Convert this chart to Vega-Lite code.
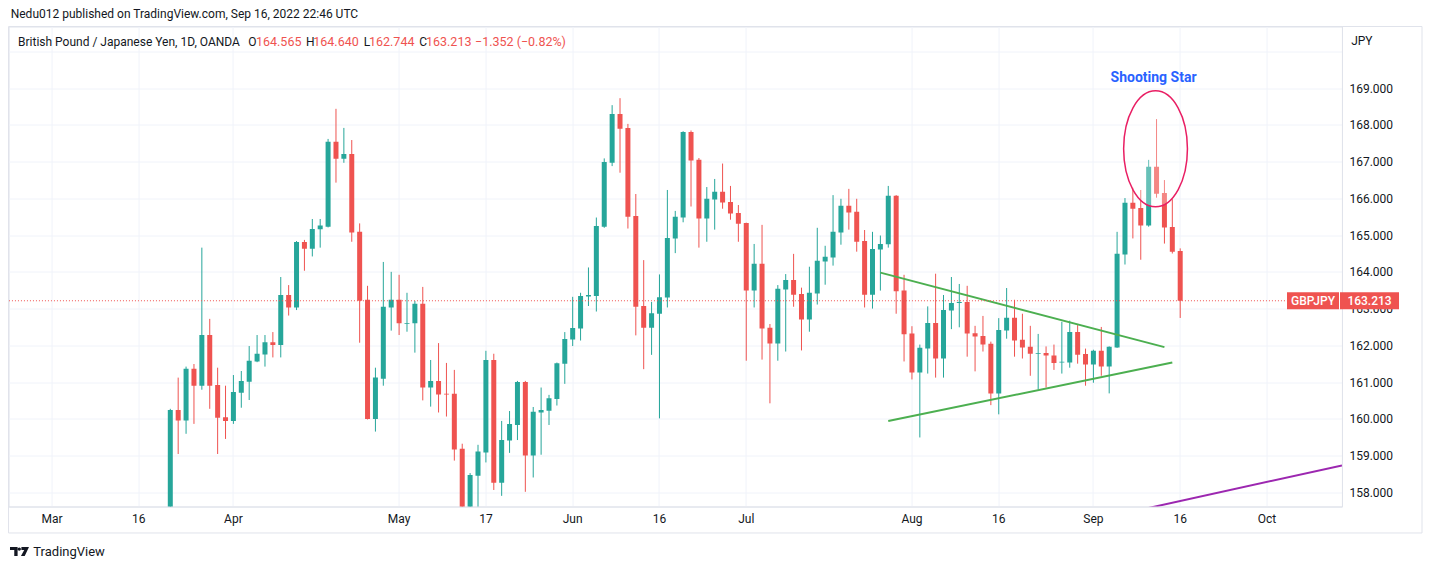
{
  "$schema": "https://vega.github.io/schema/vega-lite/v6.json",
  "description": "GBPJPY daily candles, Mar - Sep 2022, TradingView style",
  "width": 1333.4,
  "height": 480,
  "autosize": {"type": "none"},
  "padding": {"left": 8.55, "top": 26.5, "right": 90.05, "bottom": 62.5},
  "background": "#ffffff",
  "datasets": {
    "candles": [
      {"date": "2022-03-22", "open": 157.35, "high": 160.27, "low": 157.1, "close": 160.24},
      {"date": "2022-03-23", "open": 160.24, "high": 161.12, "low": 159.04, "close": 159.95},
      {"date": "2022-03-24", "open": 159.95, "high": 161.42, "low": 159.59, "close": 161.36},
      {"date": "2022-03-25", "open": 161.36, "high": 161.49, "low": 159.86, "close": 160.9},
      {"date": "2022-03-28", "open": 160.9, "high": 164.66, "low": 160.79, "close": 162.28},
      {"date": "2022-03-29", "open": 162.28, "high": 162.72, "low": 160.27, "close": 160.9},
      {"date": "2022-03-30", "open": 160.92, "high": 161.39, "low": 159.04, "close": 160.03},
      {"date": "2022-03-31", "open": 160.04, "high": 160.9, "low": 159.45, "close": 159.94},
      {"date": "2022-04-01", "open": 159.94, "high": 161.19, "low": 159.86, "close": 160.73},
      {"date": "2022-04-04", "open": 160.71, "high": 161.3, "low": 160.3, "close": 161.03},
      {"date": "2022-04-05", "open": 161.01, "high": 161.98, "low": 160.51, "close": 161.58},
      {"date": "2022-04-06", "open": 161.56, "high": 162.28, "low": 161.54, "close": 161.77},
      {"date": "2022-04-07", "open": 161.75, "high": 162.28, "low": 161.42, "close": 162.08},
      {"date": "2022-04-08", "open": 162.08, "high": 162.36, "low": 161.67, "close": 162.01},
      {"date": "2022-04-11", "open": 162.01, "high": 163.86, "low": 161.67, "close": 163.37},
      {"date": "2022-04-12", "open": 163.37, "high": 163.64, "low": 162.81, "close": 163.03},
      {"date": "2022-04-13", "open": 163.03, "high": 164.84, "low": 162.96, "close": 164.81},
      {"date": "2022-04-14", "open": 164.81, "high": 164.87, "low": 164.03, "close": 164.63},
      {"date": "2022-04-15", "open": 164.63, "high": 165.44, "low": 164.42, "close": 165.17},
      {"date": "2022-04-18", "open": 165.16, "high": 165.44, "low": 164.66, "close": 165.26},
      {"date": "2022-04-19", "open": 165.23, "high": 167.62, "low": 165.21, "close": 167.54},
      {"date": "2022-04-20", "open": 167.54, "high": 168.44, "low": 166.43, "close": 167.08},
      {"date": "2022-04-21", "open": 167.08, "high": 167.92, "low": 166.97, "close": 167.21},
      {"date": "2022-04-22", "open": 167.21, "high": 167.59, "low": 164.82, "close": 165.07},
      {"date": "2022-04-25", "open": 165.09, "high": 165.32, "low": 162.07, "close": 163.21},
      {"date": "2022-04-26", "open": 163.24, "high": 163.62, "low": 159.98, "close": 159.99},
      {"date": "2022-04-27", "open": 159.99, "high": 161.39, "low": 159.65, "close": 161.12},
      {"date": "2022-04-28", "open": 161.09, "high": 164.27, "low": 160.9, "close": 163.05},
      {"date": "2022-04-29", "open": 163.03, "high": 164.0, "low": 162.4, "close": 163.24},
      {"date": "2022-05-02", "open": 163.24, "high": 163.92, "low": 162.28, "close": 162.6},
      {"date": "2022-05-03", "open": 162.59, "high": 163.43, "low": 162.37, "close": 162.61},
      {"date": "2022-05-04", "open": 162.6, "high": 163.21, "low": 161.8, "close": 163.13},
      {"date": "2022-05-05", "open": 163.13, "high": 163.59, "low": 160.5, "close": 160.85},
      {"date": "2022-05-06", "open": 160.85, "high": 161.6, "low": 160.33, "close": 161.03},
      {"date": "2022-05-09", "open": 161.03, "high": 162.06, "low": 160.17, "close": 160.66},
      {"date": "2022-05-10", "open": 160.68, "high": 161.52, "low": 160.06, "close": 160.66},
      {"date": "2022-05-11", "open": 160.68, "high": 161.33, "low": 158.86, "close": 159.16},
      {"date": "2022-05-12", "open": 159.18, "high": 159.32, "low": 155.6, "close": 157.1},
      {"date": "2022-05-13", "open": 157.1, "high": 158.52, "low": 156.9, "close": 158.47},
      {"date": "2022-05-16", "open": 158.45, "high": 159.29, "low": 157.5, "close": 159.11},
      {"date": "2022-05-17", "open": 159.08, "high": 161.85, "low": 158.81, "close": 161.6},
      {"date": "2022-05-18", "open": 161.6, "high": 161.77, "low": 158.06, "close": 158.26},
      {"date": "2022-05-19", "open": 158.26, "high": 159.94, "low": 157.9, "close": 159.42},
      {"date": "2022-05-20", "open": 159.41, "high": 160.21, "low": 159.07, "close": 159.86},
      {"date": "2022-05-23", "open": 159.83, "high": 161.03, "low": 159.42, "close": 161.0},
      {"date": "2022-05-24", "open": 161.0, "high": 161.03, "low": 158.01, "close": 159.0},
      {"date": "2022-05-25", "open": 159.0, "high": 160.32, "low": 158.4, "close": 160.19},
      {"date": "2022-05-26", "open": 160.17, "high": 160.85, "low": 159.02, "close": 160.24},
      {"date": "2022-05-27", "open": 160.22, "high": 160.65, "low": 159.83, "close": 160.56},
      {"date": "2022-05-30", "open": 160.54, "high": 161.53, "low": 160.36, "close": 161.51},
      {"date": "2022-05-31", "open": 161.5, "high": 162.36, "low": 160.95, "close": 162.17},
      {"date": "2022-06-01", "open": 162.16, "high": 163.32, "low": 161.98, "close": 162.47},
      {"date": "2022-06-02", "open": 162.46, "high": 163.43, "low": 162.13, "close": 163.34},
      {"date": "2022-06-03", "open": 163.33, "high": 164.12, "low": 163.07, "close": 163.37},
      {"date": "2022-06-06", "open": 163.34, "high": 165.48, "low": 162.92, "close": 165.25},
      {"date": "2022-06-07", "open": 165.23, "high": 167.09, "low": 165.2, "close": 166.99},
      {"date": "2022-06-08", "open": 166.97, "high": 168.54, "low": 166.88, "close": 168.3},
      {"date": "2022-06-09", "open": 168.3, "high": 168.73, "low": 166.7, "close": 167.9},
      {"date": "2022-06-10", "open": 167.92, "high": 168.03, "low": 165.18, "close": 165.5},
      {"date": "2022-06-13", "open": 165.52, "high": 166.12, "low": 162.27, "close": 163.05},
      {"date": "2022-06-14", "open": 163.07, "high": 164.32, "low": 161.35, "close": 162.48},
      {"date": "2022-06-15", "open": 162.48, "high": 163.18, "low": 161.74, "close": 162.87},
      {"date": "2022-06-16", "open": 162.86, "high": 163.93, "low": 160.01, "close": 163.31},
      {"date": "2022-06-17", "open": 163.3, "high": 166.23, "low": 163.03, "close": 164.92},
      {"date": "2022-06-20", "open": 164.91, "high": 165.66, "low": 164.51, "close": 165.5},
      {"date": "2022-06-21", "open": 165.48, "high": 167.83, "low": 165.35, "close": 167.81},
      {"date": "2022-06-22", "open": 167.81, "high": 167.85, "low": 165.78, "close": 167.03},
      {"date": "2022-06-23", "open": 167.05, "high": 167.1, "low": 164.66, "close": 165.45},
      {"date": "2022-06-24", "open": 165.45, "high": 166.31, "low": 164.82, "close": 165.99},
      {"date": "2022-06-27", "open": 165.97, "high": 166.53, "low": 165.15, "close": 166.18},
      {"date": "2022-06-28", "open": 166.18, "high": 166.95, "low": 165.72, "close": 165.89},
      {"date": "2022-06-29", "open": 165.9, "high": 166.34, "low": 165.42, "close": 165.59},
      {"date": "2022-06-30", "open": 165.6, "high": 165.82, "low": 164.82, "close": 165.31},
      {"date": "2022-07-01", "open": 165.33, "high": 165.34, "low": 161.58, "close": 163.49},
      {"date": "2022-07-04", "open": 163.49, "high": 164.76, "low": 163.03, "close": 164.22},
      {"date": "2022-07-05", "open": 164.22, "high": 165.28, "low": 161.61, "close": 162.46},
      {"date": "2022-07-06", "open": 162.48, "high": 162.58, "low": 160.42, "close": 162.05},
      {"date": "2022-07-07", "open": 162.05, "high": 163.64, "low": 161.58, "close": 163.54},
      {"date": "2022-07-08", "open": 163.52, "high": 163.94, "low": 161.83, "close": 163.78},
      {"date": "2022-07-11", "open": 163.78, "high": 164.49, "low": 163.05, "close": 163.38},
      {"date": "2022-07-12", "open": 163.4, "high": 163.57, "low": 161.86, "close": 162.7},
      {"date": "2022-07-13", "open": 162.7, "high": 164.14, "low": 162.37, "close": 163.43},
      {"date": "2022-07-14", "open": 163.41, "high": 165.2, "low": 163.11, "close": 164.3},
      {"date": "2022-07-15", "open": 164.28, "high": 164.71, "low": 163.65, "close": 164.41},
      {"date": "2022-07-18", "open": 164.39, "high": 166.09, "low": 164.17, "close": 165.09},
      {"date": "2022-07-19", "open": 165.07, "high": 165.99, "low": 164.74, "close": 165.8},
      {"date": "2022-07-20", "open": 165.8, "high": 166.26, "low": 165.15, "close": 165.62},
      {"date": "2022-07-21", "open": 165.64, "high": 165.99, "low": 164.55, "close": 164.82},
      {"date": "2022-07-22", "open": 164.84, "high": 165.14, "low": 163.03, "close": 163.38},
      {"date": "2022-07-25", "open": 163.38, "high": 165.09, "low": 163.0, "close": 164.62},
      {"date": "2022-07-26", "open": 164.61, "high": 164.99, "low": 163.49, "close": 164.76},
      {"date": "2022-07-27", "open": 164.75, "high": 166.34, "low": 164.66, "close": 166.07},
      {"date": "2022-07-28", "open": 166.07, "high": 166.09, "low": 162.86, "close": 163.47},
      {"date": "2022-07-29", "open": 163.49, "high": 163.92, "low": 161.56, "close": 162.3},
      {"date": "2022-08-01", "open": 162.32, "high": 162.52, "low": 161.07, "close": 161.26},
      {"date": "2022-08-02", "open": 161.26, "high": 162.02, "low": 159.49, "close": 161.93},
      {"date": "2022-08-03", "open": 161.91, "high": 163.06, "low": 161.23, "close": 162.61},
      {"date": "2022-08-04", "open": 162.61, "high": 163.95, "low": 161.12, "close": 161.64},
      {"date": "2022-08-05", "open": 161.64, "high": 163.37, "low": 161.12, "close": 162.96},
      {"date": "2022-08-08", "open": 162.95, "high": 163.86, "low": 162.44, "close": 163.15},
      {"date": "2022-08-09", "open": 163.15, "high": 163.67, "low": 162.49, "close": 163.18},
      {"date": "2022-08-10", "open": 163.18, "high": 163.62, "low": 161.69, "close": 162.32},
      {"date": "2022-08-11", "open": 162.33, "high": 162.53, "low": 161.29, "close": 162.24},
      {"date": "2022-08-12", "open": 162.25, "high": 162.8, "low": 161.83, "close": 162.02},
      {"date": "2022-08-15", "open": 162.04, "high": 162.1, "low": 160.37, "close": 160.69},
      {"date": "2022-08-16", "open": 160.69, "high": 162.74, "low": 160.12, "close": 162.42},
      {"date": "2022-08-17", "open": 162.4, "high": 163.56, "low": 162.18, "close": 162.75},
      {"date": "2022-08-18", "open": 162.75, "high": 163.24, "low": 161.69, "close": 162.13},
      {"date": "2022-08-19", "open": 162.15, "high": 162.86, "low": 161.64, "close": 161.94},
      {"date": "2022-08-22", "open": 161.96, "high": 162.53, "low": 161.17, "close": 161.77},
      {"date": "2022-08-23", "open": 161.77, "high": 162.31, "low": 160.8, "close": 161.79},
      {"date": "2022-08-24", "open": 161.79, "high": 161.97, "low": 160.85, "close": 161.72},
      {"date": "2022-08-25", "open": 161.72, "high": 162.02, "low": 161.33, "close": 161.52},
      {"date": "2022-08-26", "open": 161.53, "high": 162.64, "low": 161.23, "close": 161.55},
      {"date": "2022-08-29", "open": 161.53, "high": 162.67, "low": 161.39, "close": 162.36},
      {"date": "2022-08-30", "open": 162.36, "high": 162.55, "low": 161.5, "close": 161.74},
      {"date": "2022-08-31", "open": 161.76, "high": 161.91, "low": 160.9, "close": 161.48},
      {"date": "2022-09-01", "open": 161.48, "high": 161.88, "low": 160.98, "close": 161.85},
      {"date": "2022-09-02", "open": 161.85, "high": 162.5, "low": 161.17, "close": 161.42},
      {"date": "2022-09-05", "open": 161.42, "high": 161.97, "low": 160.69, "close": 161.96},
      {"date": "2022-09-06", "open": 161.94, "high": 165.09, "low": 161.93, "close": 164.49},
      {"date": "2022-09-07", "open": 164.47, "high": 166.01, "low": 164.2, "close": 165.88},
      {"date": "2022-09-08", "open": 165.88, "high": 166.29, "low": 164.91, "close": 165.72},
      {"date": "2022-09-09", "open": 165.74, "high": 166.23, "low": 164.33, "close": 165.26},
      {"date": "2022-09-12", "open": 165.26, "high": 167.05, "low": 165.23, "close": 166.86},
      {"date": "2022-09-13", "open": 166.86, "high": 168.16, "low": 166.02, "close": 166.13},
      {"date": "2022-09-14", "open": 166.15, "high": 166.5, "low": 164.77, "close": 165.21},
      {"date": "2022-09-15", "open": 165.22, "high": 165.98, "low": 164.5, "close": 164.55},
      {"date": "2022-09-16", "open": 164.565, "high": 164.64, "low": 162.744, "close": 163.213}
    ],
    "triangle": [
      {"line": "upper", "start": "2022-07-26", "end": "2022-09-14", "p1": 163.98, "p2": 161.95},
      {"line": "lower", "start": "2022-07-27", "end": "2022-09-15", "p1": 159.94, "p2": 161.53}
    ],
    "support": [
      {"line": "long-term", "start": "2022-09-12", "end": "2022-10-14", "p1": 157.57, "p2": 158.73}
    ],
    "pattern": [
      {"date": "2022-09-13", "name": "Shooting Star", "centre": 167.35, "labelAt": 169.28}
    ],
    "quote": [
      {
        "published": "Nedu012 published on TradingView.com, Sep 16, 2022 22:46 UTC",
        "title": "British Pound / Japanese Yen, 1D, OANDA",
        "symbol": "GBPJPY",
        "first": "2022-02-22",
        "last": "2022-10-14",
        "open": 164.565,
        "high": 164.64,
        "low": 162.744,
        "close": 163.213,
        "change": "−1.352 (−0.82%)",
        "top": 170.682,
        "bottom": 156.889
      }
    ]
  },
  "layer": [
    {
      "data": {"name": "candles"},
      "mark": {"type": "rule", "strokeWidth": 1, "clip": true},
      "encoding": {
        "x": {
          "field": "date",
          "type": "ordinal",
          "scale": {
            "type": "band",
            "paddingInner": 0,
            "paddingOuter": 0,
            "domain": [
              "2022-02-22","2022-02-23","2022-02-24","2022-02-25","2022-02-28",
              "2022-03-01","2022-03-02","2022-03-03","2022-03-04","2022-03-07","2022-03-08","2022-03-09","2022-03-10","2022-03-11","2022-03-14","2022-03-15","2022-03-16","2022-03-17","2022-03-18","2022-03-21","2022-03-22","2022-03-23","2022-03-24","2022-03-25","2022-03-28","2022-03-29","2022-03-30","2022-03-31",
              "2022-04-01","2022-04-04","2022-04-05","2022-04-06","2022-04-07","2022-04-08","2022-04-11","2022-04-12","2022-04-13","2022-04-14","2022-04-15","2022-04-18","2022-04-19","2022-04-20","2022-04-21","2022-04-22","2022-04-25","2022-04-26","2022-04-27","2022-04-28","2022-04-29",
              "2022-05-02","2022-05-03","2022-05-04","2022-05-05","2022-05-06","2022-05-09","2022-05-10","2022-05-11","2022-05-12","2022-05-13","2022-05-16","2022-05-17","2022-05-18","2022-05-19","2022-05-20","2022-05-23","2022-05-24","2022-05-25","2022-05-26","2022-05-27","2022-05-30","2022-05-31",
              "2022-06-01","2022-06-02","2022-06-03","2022-06-06","2022-06-07","2022-06-08","2022-06-09","2022-06-10","2022-06-13","2022-06-14","2022-06-15","2022-06-16","2022-06-17","2022-06-20","2022-06-21","2022-06-22","2022-06-23","2022-06-24","2022-06-27","2022-06-28","2022-06-29","2022-06-30",
              "2022-07-01","2022-07-04","2022-07-05","2022-07-06","2022-07-07","2022-07-08","2022-07-11","2022-07-12","2022-07-13","2022-07-14","2022-07-15","2022-07-18","2022-07-19","2022-07-20","2022-07-21","2022-07-22","2022-07-25","2022-07-26","2022-07-27","2022-07-28","2022-07-29",
              "2022-08-01","2022-08-02","2022-08-03","2022-08-04","2022-08-05","2022-08-08","2022-08-09","2022-08-10","2022-08-11","2022-08-12","2022-08-15","2022-08-16","2022-08-17","2022-08-18","2022-08-19","2022-08-22","2022-08-23","2022-08-24","2022-08-25","2022-08-26","2022-08-29","2022-08-30","2022-08-31",
              "2022-09-01","2022-09-02","2022-09-05","2022-09-06","2022-09-07","2022-09-08","2022-09-09","2022-09-12","2022-09-13","2022-09-14","2022-09-15","2022-09-16","2022-09-19","2022-09-20","2022-09-21","2022-09-22","2022-09-23","2022-09-26","2022-09-27","2022-09-28","2022-09-29","2022-09-30",
              "2022-10-03","2022-10-04","2022-10-05","2022-10-06","2022-10-07","2022-10-10","2022-10-11","2022-10-12","2022-10-13","2022-10-14"
            ]
          },
          "axis": {
            "title": null,
            "values": ["2022-03-01","2022-03-16","2022-04-01","2022-05-02","2022-05-17","2022-06-01","2022-06-16","2022-07-01","2022-08-01","2022-08-16","2022-09-01","2022-09-16","2022-10-03"],
            "labelExpr": "slice(datum.value, 8) == '16' ? '16' : slice(datum.value, 8) == '17' ? '17' : ['Jan','Feb','Mar','Apr','May','Jun','Jul','Aug','Sep','Oct','Nov','Dec'][toNumber(slice(datum.value, 5, 7)) - 1]",
            "labelAngle": 0,
            "labelPadding": 7,
            "labelOverlap": false,
            "grid": true,
            "bandPosition": 0.5,
            "ticks": false
          }
        },
        "y": {
          "field": "low",
          "type": "quantitative",
          "scale": {"domain": [157.61, 170.682], "nice": false, "zero": false},
          "axis": {
            "orient": "right",
            "values": [158, 159, 160, 161, 162, 163, 164, 165, 166, 167, 168, 169, 170],
            "tickCount": 20,
            "labelExpr": "datum.value == 170 ? '' : format(datum.value, '.3f')",
            "labelPadding": 7,
            "labelOverlap": false,
            "labelFlush": false,
            "ticks": false,
            "grid": true,
            "title": "JPY",
            "titleAngle": 0,
            "titleAlign": "left",
            "titleBaseline": "middle",
            "titleX": 8.7,
            "titleY": 13.5,
            "titleFont": "Roboto",
            "titleFontSize": 12,
            "titleFontWeight": "normal",
            "titleColor": "#131722"
          }
        },
        "y2": {"field": "high"},
        "color": {
          "condition": {"test": "datum.close >= datum.open", "value": "#26a69a"},
          "value": "#ef5350"
        }
      }
    },
    {
      "data": {"name": "candles"},
      "mark": {"type": "bar", "size": 5, "clip": true},
      "encoding": {
        "x": {"field": "date", "type": "ordinal"},
        "y": {
          "field": "open",
          "type": "quantitative",
          "axis": {
            "orient": "right",
            "values": [158, 159, 160, 161, 162, 163, 164, 165, 166, 167, 168, 169, 170],
            "tickCount": 20,
            "labelExpr": "datum.value == 170 ? '' : format(datum.value, '.3f')",
            "labelPadding": 7,
            "labelOverlap": false,
            "labelFlush": false,
            "ticks": false,
            "grid": true,
            "title": "JPY",
            "titleAngle": 0,
            "titleAlign": "left",
            "titleBaseline": "middle",
            "titleX": 8.7,
            "titleY": 13.5,
            "titleFont": "Roboto",
            "titleFontSize": 12,
            "titleFontWeight": "normal",
            "titleColor": "#131722"
          }
        },
        "y2": {"field": "close"},
        "color": {
          "condition": {"test": "datum.close >= datum.open", "value": "#26a69a"},
          "value": "#ef5350"
        }
      }
    },
    {
      "data": {"name": "triangle"},
      "mark": {"type": "rule", "color": "#4caf50", "strokeWidth": 2, "clip": true},
      "encoding": {
        "x": {"field": "start", "type": "ordinal"},
        "x2": {"field": "end"},
        "y": {"field": "p1", "type": "quantitative"},
        "y2": {"field": "p2"}
      }
    },
    {
      "data": {"name": "support"},
      "mark": {"type": "rule", "color": "#9c27b0", "strokeWidth": 2, "clip": true, "x2Offset": 4},
      "encoding": {
        "x": {"field": "start", "type": "ordinal"},
        "x2": {"field": "end"},
        "y": {"field": "p1", "type": "quantitative"},
        "y2": {"field": "p2"}
      }
    },
    {
      "data": {"name": "quote"},
      "mark": {"type": "rule", "color": "#ef5350", "strokeWidth": 1, "strokeDash": [1, 2]},
      "encoding": {
        "y": {"field": "close", "type": "quantitative"}
      }
    },
    {
      "data": {"name": "pattern"},
      "mark": {
        "type": "point",
        "shape": "M-0.55,0A0.55,1,0,1,0,0.55,0A0.55,1,0,1,0,-0.55,0Z",
        "size": 13456,
        "filled": true,
        "fill": "#ffffff",
        "fillOpacity": 0.3,
        "stroke": "#e91e63",
        "strokeWidth": 1.5,
        "opacity": 1,
        "xOffset": -1
      },
      "encoding": {
        "x": {"field": "date", "type": "ordinal"},
        "y": {"field": "centre", "type": "quantitative"}
      }
    },
    {
      "data": {"name": "pattern"},
      "mark": {"type": "text", "color": "#2962ff", "font": "Roboto", "fontSize": 14, "fontWeight": "bold", "dx": -3},
      "encoding": {
        "x": {"field": "date", "type": "ordinal"},
        "y": {"field": "labelAt", "type": "quantitative"},
        "text": {"field": "name"}
      }
    },
    {
      "data": {"name": "quote"},
      "mark": {"type": "text", "align": "left", "color": "#131722", "font": "Roboto", "fontSize": 12, "dx": -1.8},
      "encoding": {
        "x": {"field": "first", "type": "ordinal"},
        "y": {"datum": 171.02},
        "text": {"field": "published"}
      }
    },
    {
      "data": {"name": "quote"},
      "mark": {"type": "text", "align": "left", "color": "#131722", "font": "Roboto", "fontSize": 12, "dx": 5.5},
      "encoding": {
        "x": {"field": "first", "type": "ordinal"},
        "y": {"datum": 170.26},
        "text": {"field": "title"}
      }
    },
    {
      "data": {"name": "quote"},
      "mark": {"type": "text", "align": "left", "color": "#131722", "font": "Roboto", "fontSize": 12, "dx": 235.8, "text": "O"},
      "encoding": {"x": {"field": "first", "type": "ordinal"}, "y": {"datum": 170.26}}
    },
    {
      "data": {"name": "quote"},
      "mark": {"type": "text", "align": "left", "color": "#ef5350", "font": "Roboto", "fontSize": 12.5, "dx": 243.5},
      "encoding": {"x": {"field": "first", "type": "ordinal"}, "y": {"datum": 170.26}, "text": {"field": "open", "type": "quantitative", "format": ".3f"}}
    },
    {
      "data": {"name": "quote"},
      "mark": {"type": "text", "align": "left", "color": "#131722", "font": "Roboto", "fontSize": 12, "dx": 293.5, "text": "H"},
      "encoding": {"x": {"field": "first", "type": "ordinal"}, "y": {"datum": 170.26}}
    },
    {
      "data": {"name": "quote"},
      "mark": {"type": "text", "align": "left", "color": "#ef5350", "font": "Roboto", "fontSize": 12.5, "dx": 300.8},
      "encoding": {"x": {"field": "first", "type": "ordinal"}, "y": {"datum": 170.26}, "text": {"field": "high", "type": "quantitative", "format": ".3f"}}
    },
    {
      "data": {"name": "quote"},
      "mark": {"type": "text", "align": "left", "color": "#131722", "font": "Roboto", "fontSize": 12, "dx": 351.2, "text": "L"},
      "encoding": {"x": {"field": "first", "type": "ordinal"}, "y": {"datum": 170.26}}
    },
    {
      "data": {"name": "quote"},
      "mark": {"type": "text", "align": "left", "color": "#ef5350", "font": "Roboto", "fontSize": 12.5, "dx": 356.5},
      "encoding": {"x": {"field": "first", "type": "ordinal"}, "y": {"datum": 170.26}, "text": {"field": "low", "type": "quantitative", "format": ".3f"}}
    },
    {
      "data": {"name": "quote"},
      "mark": {"type": "text", "align": "left", "color": "#131722", "font": "Roboto", "fontSize": 12, "dx": 406.8, "text": "C"},
      "encoding": {"x": {"field": "first", "type": "ordinal"}, "y": {"datum": 170.26}}
    },
    {
      "data": {"name": "quote"},
      "mark": {"type": "text", "align": "left", "color": "#ef5350", "font": "Roboto", "fontSize": 12.5, "dx": 413.5},
      "encoding": {"x": {"field": "first", "type": "ordinal"}, "y": {"datum": 170.26}, "text": {"field": "close", "type": "quantitative", "format": ".3f"}}
    },
    {
      "data": {"name": "quote"},
      "mark": {"type": "text", "align": "left", "color": "#ef5350", "font": "Roboto", "fontSize": 12.5, "dx": 462.5},
      "encoding": {"x": {"field": "first", "type": "ordinal"}, "y": {"datum": 170.26}, "text": {"field": "change"}}
    },
    {
      "data": {"name": "quote"},
      "mark": {"type": "point", "shape": "M-1,-0.327H1V0.327H-1Z", "size": 2704, "filled": true, "color": "#ef5350", "opacity": 1, "xOffset": -25},
      "encoding": {"x": {"field": "last", "type": "ordinal"}, "y": {"field": "close", "type": "quantitative"}}
    },
    {
      "data": {"name": "quote"},
      "mark": {"type": "point", "shape": "M-1,-0.288H1V0.288H-1Z", "size": 3481, "filled": true, "color": "#ef5350", "opacity": 1, "xOffset": 31.5},
      "encoding": {"x": {"field": "last", "type": "ordinal"}, "y": {"field": "close", "type": "quantitative"}}
    },
    {
      "data": {"name": "quote"},
      "mark": {"type": "text", "color": "#ffffff", "font": "Roboto", "fontSize": 12, "fontWeight": 500, "dx": -25},
      "encoding": {"x": {"field": "last", "type": "ordinal"}, "y": {"field": "close", "type": "quantitative"}, "text": {"field": "symbol"}}
    },
    {
      "data": {"name": "quote"},
      "mark": {"type": "text", "color": "#ffffff", "font": "Roboto", "fontSize": 12, "fontWeight": 500, "dx": 31.5},
      "encoding": {"x": {"field": "last", "type": "ordinal"}, "y": {"field": "close", "type": "quantitative"}, "text": {"field": "close", "type": "quantitative", "format": ".3f"}}
    },
    {
      "data": {"name": "quote"},
      "mark": {"type": "rule", "color": "#e0e3eb", "strokeWidth": 1, "xOffset": -3.95, "x2Offset": 84},
      "encoding": {"x": {"field": "first", "type": "ordinal"}, "x2": {"field": "last"}, "y": {"field": "bottom", "type": "quantitative"}}
    },
    {
      "data": {"name": "quote"},
      "mark": {"type": "rule", "color": "#e0e3eb", "strokeWidth": 1, "xOffset": -3.95, "x2Offset": 84},
      "encoding": {"x": {"field": "first", "type": "ordinal"}, "x2": {"field": "last"}, "y": {"field": "top", "type": "quantitative"}}
    },
    {
      "data": {"name": "quote"},
      "mark": {"type": "rule", "color": "#e0e3eb", "strokeWidth": 1, "xOffset": 84},
      "encoding": {"x": {"field": "last", "type": "ordinal"}, "y": {"field": "top", "type": "quantitative"}, "y2": {"field": "bottom"}}
    },
    {
      "data": {"name": "quote"},
      "mark": {"type": "rule", "color": "#e0e3eb", "strokeWidth": 1, "xOffset": -3.95},
      "encoding": {"x": {"field": "first", "type": "ordinal"}, "y": {"field": "top", "type": "quantitative"}, "y2": {"field": "bottom"}}
    },
    {
      "data": {"name": "quote"},
      "mark": {
        "type": "point",
        "shape": "M-1,-0.47H-0.2V0.47H-0.55V-0.15H-1Z M-0.02,-0.42A0.17,0.17,0,1,1,-0.02,-0.08A0.17,0.17,0,1,1,-0.02,-0.42Z M0.2,-0.47H1L0.55,0.47H0.15L0.5,-0.15H0.2Z",
        "size": 361,
        "filled": true,
        "color": "#131722",
        "opacity": 1,
        "xOffset": 7
      },
      "encoding": {"x": {"field": "first", "type": "ordinal"}, "y": {"datum": 156.385}}
    },
    {
      "data": {"name": "quote"},
      "mark": {"type": "text", "align": "left", "color": "#131722", "font": "Roboto", "fontSize": 13, "dx": 20.8, "text": "TradingView"},
      "encoding": {"x": {"field": "first", "type": "ordinal"}, "y": {"datum": 156.37}}
    }
  ],
  "config": {
    "view": {"stroke": "#e0e3eb"},
    "axis": {
      "gridColor": "#f0f3fa",
      "gridWidth": 1,
      "domainColor": "#e0e3eb",
      "labelFont": "Roboto",
      "labelFontSize": 12,
      "labelColor": "#131722",
      "labelOverlap": false
    }
  }
}
